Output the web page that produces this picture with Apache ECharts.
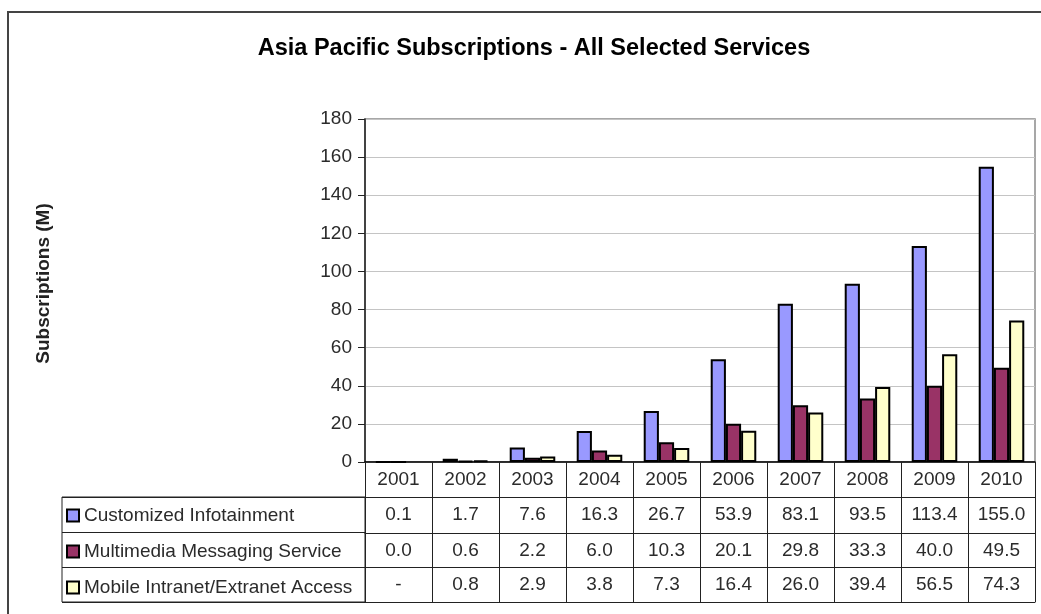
<!DOCTYPE html>
<html>
<head>
<meta charset="utf-8">
<title>Asia Pacific Subscriptions - All Selected Services</title>
<script src="https://cdn.jsdelivr.net/npm/echarts@6/dist/echarts.min.js"></script>
<style>
  html, body { margin: 0; padding: 0; background: #ffffff; }
  #chart { width: 1041px; height: 614px; }
</style>
</head>
<body>
<div id="chart"></div>
<script>
// Subscriptions in millions, per year and per service
const years = ['2001', '2002', '2003', '2004', '2005', '2006', '2007', '2008', '2009', '2010'];
const seriesNames = ['Customized Infotainment', 'Multimedia Messaging Service', 'Mobile Intranet/Extranet Access'];
const infotainment = [0.1, 1.7, 7.6, 16.3, 26.7, 53.9, 83.1, 93.5, 113.4, 155.0];
const messaging = [0.0, 0.6, 2.2, 6.0, 10.3, 20.1, 29.8, 33.3, 40.0, 49.5];
const intranet = [null, 0.8, 2.9, 3.8, 7.3, 16.4, 26.0, 39.4, 56.5, 74.3];
const seriesColors = ['#9999FF', '#993366', '#FFFFCC'];

const FONT = '"Liberation Sans", Arial, sans-serif';
const TEXT = '#2b2b2b';
const LABEL_SIZE = 19;

// Plot area and data-table geometry
const plotLeft = 365, plotTop = 119, plotWidth = 670, plotHeight = 343;
const rowOffsets = [35, 71, 105, 140];   // table row lines below the category axis

function fmt(v) {
  return (v === null || v === undefined) ? '-' : v.toFixed(1);
}

// One extra bottom axis per table row: its line is the row's top rule,
// its labels are that service's values under each year.
function tableRowAxis(values, offset) {
  return {
    type: 'category',
    gridIndex: 0,
    position: 'bottom',
    offset: offset,
    data: years,
    boundaryGap: true,
    axisLine: { show: true, lineStyle: { color: '#222', width: 1 } },
    axisTick: { show: false },
    splitLine: { show: false },
    axisLabel: {
      show: values !== null,
      interval: 0,
      margin: 8,
      fontFamily: FONT,
      fontSize: LABEL_SIZE,
      color: TEXT,
      formatter: function (val, idx) { return values ? fmt(values[idx]) : ''; }
    }
  };
}

const rowValues = [infotainment, messaging, intranet];

const option = {
  animation: false,
  backgroundColor: '#ffffff',
  textStyle: { fontFamily: FONT },
  title: {
    text: 'Asia Pacific Subscriptions - All Selected Services',
    left: 534,
    top: 37,
    textAlign: 'center',
    padding: 0,
    textStyle: { fontFamily: FONT, fontSize: 23.5, fontWeight: 'bold', color: '#000' }
  },
  legend: {
    orient: 'vertical',
    left: 66,
    top: 506,
    padding: 0,
    itemWidth: 12,
    itemHeight: 12,
    itemGap: 17,
    icon: 'rect',
    selectedMode: false,
    data: seriesNames,
    textStyle: { fontFamily: FONT, fontSize: LABEL_SIZE, lineHeight: 18, color: TEXT }
  },
  grid: [
    {
      left: plotLeft, top: plotTop, width: plotWidth, height: plotHeight,
      show: true, borderColor: '#8a8a8a', borderWidth: 1.5, containLabel: false
    },
    {
      // legend column of the data table
      left: 62, top: plotTop + plotHeight + rowOffsets[0],
      width: plotLeft - 62, height: rowOffsets[3] - rowOffsets[0],
      show: true, borderColor: '#222', borderWidth: 1, containLabel: false
    }
  ],
  xAxis: [
    {
      type: 'category',
      gridIndex: 0,
      data: years,
      boundaryGap: true,
      axisLine: { show: true, lineStyle: { color: '#000', width: 1.5 } },
      axisTick: { show: true, interval: 0, length: rowOffsets[3], lineStyle: { color: '#222', width: 1 } },
      splitLine: { show: false },
      axisLabel: { interval: 0, margin: 8, fontFamily: FONT, fontSize: LABEL_SIZE, color: TEXT }
    },
    tableRowAxis(rowValues[0], rowOffsets[0]),
    tableRowAxis(rowValues[1], rowOffsets[1]),
    tableRowAxis(rowValues[2], rowOffsets[2]),
    tableRowAxis(null, rowOffsets[3]),
    { type: 'value', gridIndex: 1, show: false, min: 0, max: 1 }
  ],
  yAxis: [
    {
      type: 'value',
      gridIndex: 0,
      min: 0,
      max: 180,
      interval: 20,
      name: 'Subscriptions (M)',
      nameLocation: 'middle',
      nameRotate: 90,
      nameGap: 312,
      nameTextStyle: { fontFamily: FONT, fontSize: 19, fontWeight: 'bold', color: '#222', padding: [0, 0, 0, 14] },
      axisLine: { show: true, lineStyle: { color: '#222', width: 1.5 } },
      axisTick: { show: true, length: 7, lineStyle: { color: '#222' } },
      splitLine: { show: true, lineStyle: { color: '#c4c4c4', width: 1 } },
      axisLabel: { margin: 13, fontFamily: FONT, fontSize: LABEL_SIZE, color: TEXT }
    },
    {
      type: 'category',
      gridIndex: 1,
      data: seriesNames,
      inverse: true,
      boundaryGap: true,
      axisLine: { show: false },
      axisTick: { show: false },
      axisLabel: { show: false },
      splitLine: { show: true, interval: 0, lineStyle: { color: '#222', width: 1 } }
    }
  ],
  series: seriesNames.map(function (name, i) {
    return {
      name: name,
      type: 'bar',
      xAxisIndex: 0,
      yAxisIndex: 0,
      data: rowValues[i],
      barGap: '0%',
      barCategoryGap: '32%',
      itemStyle: { color: seriesColors[i], borderColor: '#000', borderWidth: 2 }
    };
  }),
  graphic: [
    {
      // chart-area frame
      type: 'polyline',
      silent: true,
      shape: { points: [[8, 614], [8, 12], [1041, 12]] },
      style: { stroke: '#444', lineWidth: 2, fill: null }
    }
  ]
};

const chart = echarts.init(document.getElementById('chart'), null, { renderer: 'canvas' });
chart.setOption(option);
</script>
</body>
</html>
